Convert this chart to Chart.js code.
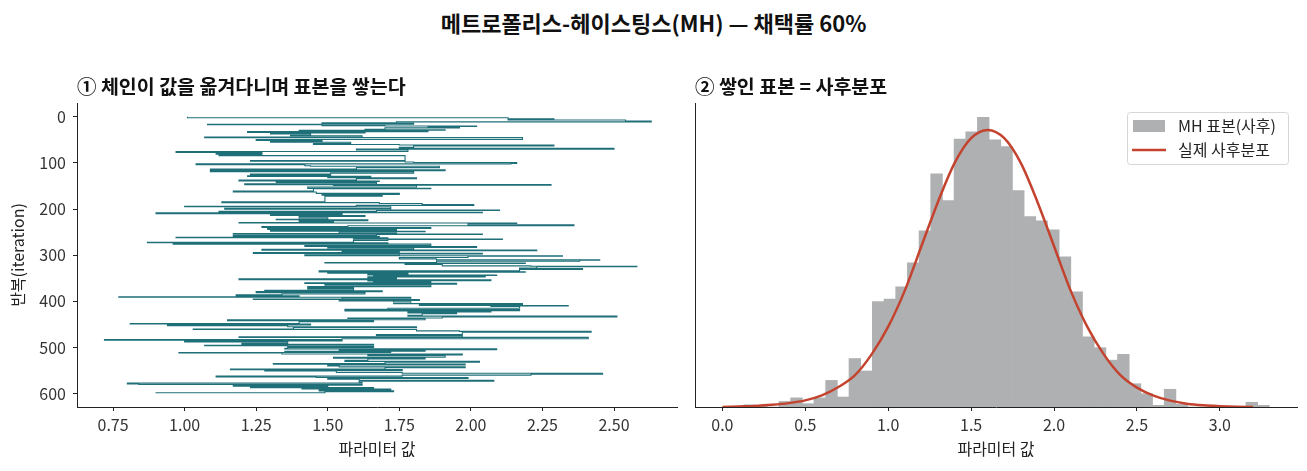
<!DOCTYPE html>
<html>
<head>
<meta charset="utf-8">
<script src="https://cdn.jsdelivr.net/npm/chart.js@4.4.1/dist/chart.umd.min.js"></script>
<style>
  html, body { margin: 0; padding: 0; background: #fff; }
  #wrap { position: relative; width: 1307px; height: 471px; font-family: "Noto Sans CJK KR", sans-serif; }
  #title { position: absolute; left: 0; top: 6px; width: 1307px; text-align: center; font-weight: bold; font-size: 22px; line-height: 32px; color: #111; }
  #c1 { position: absolute; left: 0; top: 60px; }
  #c2 { position: absolute; left: 686px; top: 60px; }
</style>
</head>
<body>
<div id="wrap">
  <div id="title">메트로폴리스-헤이스팅스(MH) — 채택률 60%</div>
  <canvas id="c1" width="686" height="411"></canvas>
  <canvas id="c2" width="621" height="411"></canvas>
</div>
<script>
// chain trace: iteration where the chain moved, and the value it moved to
const traceIter = [
  0, 2, 4, 5, 7, 9, 11, 13, 14, 16, 17, 19, 20, 21, 22, 24, 27, 28, 29, 31, 32, 34, 35, 37, 40, 41, 44, 45, 49, 51,
  53, 55, 58, 60, 61, 63, 66, 68, 70, 72, 75, 77, 79, 81, 83, 84, 95, 96, 98, 99, 101, 102, 104, 106, 107, 110, 113, 115, 117,
  119, 122, 124, 126, 128, 129, 131, 132, 134, 137, 139, 140, 142, 145, 147, 148, 149, 152, 155, 156, 161, 163, 166, 168, 170,
  172, 184, 186, 188, 190, 192, 194, 195, 198, 200, 202, 203, 205, 207, 208, 210, 212, 214, 216, 219, 222, 223, 225, 227, 229,
  230, 231, 234, 236, 238, 240, 242, 244,
  246, 248, 249, 252, 253, 254, 255, 257, 259, 261, 262, 264, 265, 266, 268, 272, 273, 275, 276, 279, 281, 283, 284, 287, 289,
  290, 292, 294, 296, 297, 299, 301, 302, 305, 308, 310, 311, 313, 316, 317, 318, 320, 323, 324, 325, 328, 329, 331, 334, 336,
  337, 339, 341, 343, 344, 346, 347, 349, 351, 353, 355, 356, 357, 358, 360, 361, 363, 365, 368, 369,
  371, 373, 376, 377, 379, 381, 384, 386, 388, 390, 391, 393, 395, 396, 398, 399, 401, 404, 405, 407, 409, 410, 411, 415, 417,
  418, 420, 421, 423, 425, 427, 430, 432, 434, 436, 437, 440, 442, 444, 448, 449, 451, 453, 455, 457, 460, 461, 464, 465, 467,
  472, 474, 477, 478, 481, 483, 484, 486, 488, 491, 493, 495, 496,
  498, 500, 502, 503, 505, 506, 508, 510, 511, 512, 514, 516, 518, 521, 523, 525, 528, 530, 532, 535, 536, 538, 540, 542, 544,
  547, 548, 550, 551, 554, 556, 558, 560, 562, 564, 565, 567, 569, 571, 573, 576, 577, 579, 580, 582, 584, 586, 587, 589, 590,
  592, 594, 596, 598, 599
];
const traceValue = [
  1.01, 2.13, 2.29, 2.13, 2.54, 2.63, 1.74, 1.48, 1.80, 1.08, 1.48, 1.70, 2.02, 1.85, 1.96, 1.70, 1.63, 1.91, 1.40, 1.85, 1.22, 1.63, 1.30, 1.44, 1.37, 1.62, 1.07, 2.18, 1.25, 1.48,
  1.30, 1.58, 1.45, 1.75, 2.29, 1.80, 1.75, 2.50, 1.60, 1.78, 0.97, 1.27, 1.11, 1.27, 1.12, 1.77, 1.23, 1.77, 1.80, 2.16, 2.14, 1.04, 1.42, 1.44, 1.89, 1.60, 1.09, 1.91, 1.09,
  1.80, 1.51, 1.23, 1.51, 1.22, 1.65, 1.50, 1.81, 1.60, 1.19, 1.68, 1.32, 1.67, 1.21, 2.28, 1.52, 1.81, 1.43, 1.86, 1.45, 1.17, 1.46, 1.75, 1.48, 1.69,
  1.49, 1.13, 1.68, 1.83, 2.01, 1.60, 1.00, 1.72, 1.14, 1.72, 2.10, 1.67, 1.12, 2.04, 0.90, 1.55, 1.30, 1.63, 1.40, 1.50, 1.32, 1.64, 1.40, 1.52, 1.19,
  2.16, 1.99, 2.36, 1.57, 1.27, 1.86, 1.29, 1.74,
  1.30, 1.84, 1.54, 1.74, 1.17, 2.04, 1.67, 1.17, 1.68, 0.97, 1.71, 1.59, 2.11, 1.71, 1.59, 0.87, 1.71, 0.96, 1.86, 1.42, 2.02, 1.50, 1.80, 1.27, 2.23,
  1.55, 1.75, 1.24, 2.04, 1.75, 1.42, 2.32, 1.99, 1.75, 1.88, 2.45, 2.38, 1.88, 1.49, 2.19, 1.77, 1.90, 2.21, 2.58, 2.23, 2.17, 2.39, 2.17, 1.47, 2.19,
  1.50, 1.78, 1.64, 2.09, 1.66, 2.05, 1.64, 1.74, 1.19, 2.07, 1.64, 1.86, 1.66, 1.86, 1.42, 1.95, 1.49, 1.86, 1.43, 1.59,
  1.43, 1.59, 1.28, 1.69, 1.25, 1.63, 1.34, 1.18, 1.40, 0.77, 1.79, 1.55, 1.24, 1.82, 1.54, 1.73, 1.79, 1.73, 2.18, 1.82, 2.34, 2.07, 2.17, 1.71, 1.56,
  2.17, 1.56, 2.07, 1.78, 1.95, 1.83, 1.78, 2.51, 1.90, 1.57, 1.84, 1.15, 1.66, 1.40, 0.81, 1.44, 0.94, 1.36, 1.81, 1.38, 1.03, 1.81, 1.96, 2.42, 1.97,
  1.67, 1.97, 1.19, 2.41, 1.55, 0.72, 1.55, 1.00, 1.36, 1.20, 1.66, 1.07, 1.36,
  1.66, 1.36, 1.35, 2.09, 1.54, 1.84, 1.35, 1.72, 0.98, 1.34, 1.97, 1.64, 1.91, 1.52, 1.84, 1.64, 1.56, 2.03, 1.70, 1.31, 1.98, 1.50, 1.54, 1.98, 1.70,
  1.16, 1.76, 1.28, 1.53, 1.76, 2.46, 2.21, 1.76, 1.11, 1.46, 1.99, 1.50, 1.61, 2.08, 1.61, 1.62, 0.80, 0.84, 1.62, 1.17, 1.50, 1.23, 1.66, 1.41, 1.72,
  1.47, 1.73, 1.49, 0.90, 0.90
];

// histogram of MH samples (density per bin)
const binStart = 0.13;
const binWidth = 0.0704;
const binDensity = [
  0.008, 0.004, 0.000, 0.020, 0.033, 0.012, 0.033, 0.096, 0.036, 0.175,
  0.130, 0.380, 0.389, 0.434, 0.520, 0.636, 0.841, 0.745, 0.967, 0.993,
  1.045, 0.964, 0.940, 0.781, 0.687, 0.672, 0.639, 0.542, 0.416, 0.253,
  0.214, 0.169, 0.190, 0.084, 0.048, 0.006, 0.064, 0.010, 0.000, 0.000,
  0.000, 0.000, 0.000, 0.017, 0.006
];

// true posterior curve
const curveX = [0.0, 0.1, 0.2, 0.3, 0.4, 0.5, 0.6, 0.7, 0.8, 0.9, 1.0, 1.1, 1.2, 1.3, 1.4, 1.5, 1.6,
  1.7, 1.8, 1.9, 2.0, 2.1, 2.2, 2.3, 2.4, 2.5, 2.6, 2.7, 2.8, 2.9, 3.0, 3.1, 3.2];
const curveY = [0.000, 0.002, 0.004, 0.008, 0.014, 0.024, 0.042, 0.072, 0.115, 0.190, 0.290, 0.42, 0.58, 0.74, 0.88, 0.97, 1.00,
  0.97, 0.88, 0.74, 0.58, 0.42, 0.29, 0.19, 0.115, 0.070, 0.041, 0.023, 0.012, 0.006, 0.003, 0.001, 0.000];

const traceTicks = [0.75, 1.00, 1.25, 1.50, 1.75, 2.00, 2.25, 2.50];
const iterTicks = [0, 100, 200, 300, 400, 500, 600];
const postTicks = [0.0, 0.5, 1.0, 1.5, 2.0, 2.5, 3.0];

const titleLeft = '① 체인이 값을 옮겨다니며 표본을 쌓는다';
const titleRight = '② 쌓인 표본 = 사후분포';

Chart.defaults.font.family = '"Noto Sans CJK KR", sans-serif';
Chart.defaults.font.size = 16;
Chart.defaults.color = '#333';

// subplot title, left aligned on the plot area
const subtitlePlugin = {
  id: 'subtitle',
  afterDraw(chart, args, opts) {
    const ctx = chart.ctx;
    ctx.save();
    ctx.font = 'bold 19.5px "Noto Sans CJK KR"';
    ctx.fillStyle = '#111';
    ctx.textBaseline = 'alphabetic';
    ctx.fillText(opts.text, chart.chartArea.left, chart.chartArea.top - 9);
    ctx.restore();
  }
};

// legend box in upper right of the plot
const legendBoxPlugin = {
  id: 'legendBox',
  afterDraw(chart) {
    const ctx = chart.ctx;
    const a = chart.chartArea;
    const x0 = a.right - 170, y0 = a.top + 9, w = 161, h = 52;
    const ds = chart.data.datasets;
    ctx.save();
    ctx.fillStyle = 'rgba(255,255,255,0.85)';
    ctx.strokeStyle = '#d6d6d6';
    ctx.lineWidth = 1;
    ctx.beginPath();
    ctx.roundRect(x0 + 0.5, y0 + 0.5, w, h, 3);
    ctx.fill();
    ctx.stroke();
    ctx.fillStyle = ds[0].backgroundColor;
    ctx.fillRect(x0 + 6, y0 + 8, 32, 12);
    ctx.strokeStyle = ds[1].borderColor;
    ctx.lineWidth = 2.5;
    ctx.beginPath();
    ctx.moveTo(x0 + 5, y0 + 38);
    ctx.lineTo(x0 + 39, y0 + 38);
    ctx.stroke();
    ctx.fillStyle = '#222';
    ctx.font = '16px "Noto Sans CJK KR"';
    ctx.textBaseline = 'middle';
    ctx.fillText(ds[0].label, x0 + 51, y0 + 14);
    ctx.fillText(ds[1].label, x0 + 51, y0 + 38);
    ctx.restore();
  }
};

const axisGrid = { display: true, drawOnChartArea: false, offset: false, tickLength: 4, color: '#222' };
const axisBorder = { display: true, color: '#222', width: 1 };

// trace plot
new Chart(document.getElementById('c1'), {
  type: 'line',
  data: {
    datasets: [{
      data: traceIter.map((t, i) => ({ x: traceValue[i], y: t })),
      borderColor: '#1f6f78',
      borderWidth: 1.1,
      pointRadius: 0,
      stepped: 'after',
      fill: false
    }]
  },
  options: {
    responsive: false,
    animation: false,
    layout: { padding: { top: 43, right: 9, left: 0, bottom: 0 } },
    plugins: {
      legend: { display: false },
      tooltip: { enabled: false },
      subtitle: { text: titleLeft }
    },
    scales: {
      x: {
        type: 'linear',
        min: 0.624,
        max: 2.72,
        afterBuildTicks: s => { s.ticks = traceTicks.map(v => ({ value: v })); },
        afterFit: s => { s.height = 64; },
        ticks: { callback: v => v.toFixed(2), maxRotation: 0, autoSkip: false, padding: 4 },
        grid: axisGrid,
        border: axisBorder,
        title: { display: true, text: '파라미터 값', color: '#222', padding: { top: 0, bottom: 12 } }
      },
      y: {
        type: 'linear',
        reverse: true,
        min: -30,
        max: 629,
        afterBuildTicks: s => { s.ticks = iterTicks.map(v => ({ value: v })); },
        afterFit: s => { s.width = 77; },
        ticks: { autoSkip: false, padding: 7 },
        grid: axisGrid,
        border: axisBorder,
        title: { display: true, text: '반복(iteration)', color: '#222', padding: { top: 8, bottom: 0 } }
      }
    }
  },
  plugins: [subtitlePlugin]
});

// histogram + true posterior
new Chart(document.getElementById('c2'), {
  type: 'bar',
  data: {
    datasets: [
      {
        type: 'bar',
        label: 'MH 표본(사후)',
        data: binDensity.map((d, i) => ({ x: binStart + binWidth * (i + 0.5), y: d })),
        backgroundColor: '#afb0b2',
        borderWidth: 0,
        barPercentage: 1.0,
        categoryPercentage: 1.0,
        order: 1
      },
      {
        type: 'line',
        label: '실제 사후분포',
        data: curveX.map((x, i) => ({ x: x, y: curveY[i] })),
        borderColor: '#c4432f',
        borderWidth: 2.5,
        pointRadius: 0,
        cubicInterpolationMode: 'monotone',
        fill: false,
        order: 0
      }
    ]
  },
  options: {
    responsive: false,
    animation: false,
    layout: { padding: { top: 43, right: 10, left: 0, bottom: 0 } },
    plugins: {
      legend: { display: false },
      tooltip: { enabled: false },
      subtitle: { text: titleRight }
    },
    scales: {
      x: {
        type: 'linear',
        offset: false,
        min: -0.165,
        max: 3.465,
        afterBuildTicks: s => { s.ticks = postTicks.map(v => ({ value: v })); },
        afterFit: s => { s.height = 64; },
        ticks: { callback: v => v.toFixed(1), maxRotation: 0, autoSkip: false, padding: 4 },
        grid: axisGrid,
        border: axisBorder,
        title: { display: true, text: '파라미터 값', color: '#222', padding: { top: 0, bottom: 12 } }
      },
      y: {
        type: 'linear',
        min: 0,
        max: 1.097,
        afterFit: s => { s.width = 9; },
        ticks: { display: false },
        grid: { display: false },
        border: axisBorder
      }
    }
  },
  plugins: [subtitlePlugin, legendBoxPlugin]
});
</script>
</body>
</html>
